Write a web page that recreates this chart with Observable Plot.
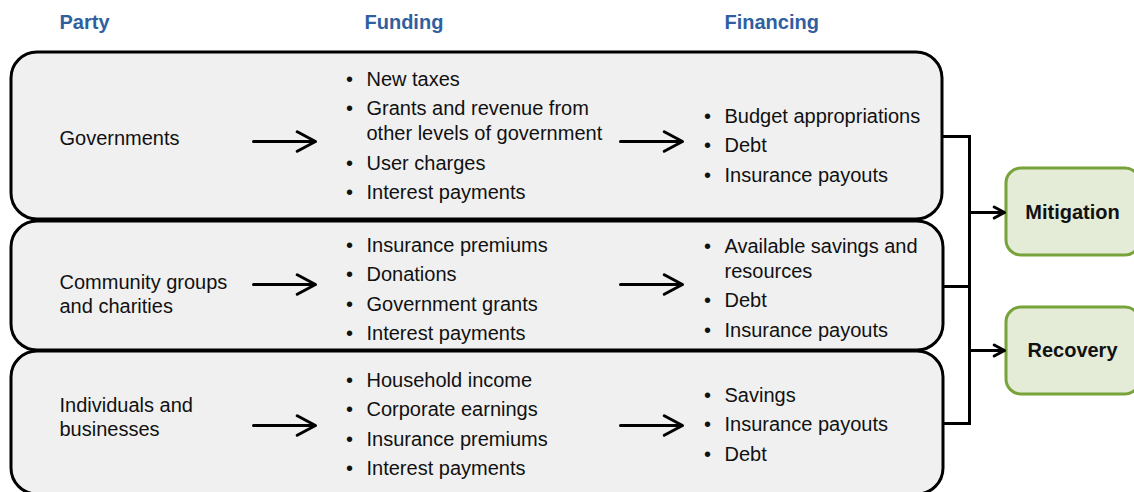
<!DOCTYPE html>
<html>
<head>
<meta charset="utf-8">
<script src="https://cdn.jsdelivr.net/npm/d3@7"></script>
<script src="https://cdn.jsdelivr.net/npm/@observablehq/plot@0.6"></script>
<style>
  html, body { margin: 0; padding: 0; background: #fff; }
  #chart { width: 1134px; height: 492px; overflow: hidden; }
</style>
</head>
<body>
<div id="chart"></div>
<script>
// ---- data ----
const headers = ["Party", "Funding", "Financing"];
const parties = ["Governments", "Community groups\nand charities", "Individuals and\nbusinesses"];
const fundingGov = ["New taxes", "Grants and revenue from\nother levels of government", "User charges", "Interest payments"];
const fundingCommunity = ["Insurance premiums", "Donations", "Government grants", "Interest payments"];
const fundingIndividuals = ["Household income", "Corporate earnings", "Insurance premiums", "Interest payments"];
const financingGov = ["Budget appropriations", "Debt", "Insurance payouts"];
const financingCommunity = ["Available savings and\nresources", "Debt", "Insurance payouts"];
const financingIndividuals = ["Savings", "Insurance payouts", "Debt"];
const outcomes = ["Mitigation", "Recovery"];

// ---- layout ----
const W = 1134, H = 492;
const font = "'Liberation Sans', Arial, Helvetica, sans-serif";
const headerX = [59, 364, 724], headerY = 22;
const rowTop = [52, 221, 351], rowBottom = [219, 350, 494], rowRight = [942, 943, 943];
const boxLeft = 11;
const partyX = 59, partyY = [137, 293, 416];
const arrowY = [141, 284, 425];
const arrow1 = [253, 315], arrow2 = [620, 682];
const fundBulletX = 349, fundTextX = 366, fundStart = [79, 245, 380];
const finBulletX = 707, finTextX = 724, finStart = [116, 246, 395];
const itemGap = 29.3, wrapGap = 25;
const busX = 969;
const outTop = [168, 307], outBottom = [255, 394], outLeft = 1006, outRight = 1140;
const outY = [212, 350];

const fundingRows = [fundingGov, fundingCommunity, fundingIndividuals];
const financingRows = [financingGov, financingCommunity, financingIndividuals];

function listLines(rows, starts, bx, tx) {
  const bullets = [], lines = [];
  rows.forEach((items, r) => {
    let y = starts[r];
    items.forEach(item => {
      const parts = item.split("\n");
      bullets.push({x: bx, y});
      parts.forEach((p, k) => lines.push({x: tx, y: y + k * wrapGap, text: p}));
      y += (parts.length - 1) * wrapGap + itemGap;
    });
  });
  return {bullets, lines};
}
const fund = listLines(fundingRows, fundStart, fundBulletX, fundTextX);
const fin = listLines(financingRows, finStart, finBulletX, finTextX);

const boxes = parties.map((p, i) => ({x1: boxLeft, x2: rowRight[i], y1: rowTop[i], y2: rowBottom[i]}));
const outBoxes = outcomes.map((o, i) => ({x1: outLeft, x2: outRight, y1: outTop[i], y2: outBottom[i], name: o, y: outY[i]}));

const arrows = [];
arrowY.forEach(y => {
  arrows.push({x1: arrow1[0], x2: arrow1[1], y1: y, y2: y});
  arrows.push({x1: arrow2[0], x2: arrow2[1], y1: y, y2: y});
});
outY.forEach(y => arrows.push({x1: busX, x2: outLeft - 2, y1: y, y2: y}));

const connY = [136, 286, 423];
const links = connY.map((y, i) => ({x1: rowRight[i], x2: busX, y1: y, y2: y}));
links.push({x1: busX, x2: busX, y1: connY[0] - 1.5, y2: connY[2] + 1.5});

const chart = Plot.plot({
  width: W, height: H,
  marginTop: 0, marginRight: 0, marginBottom: 0, marginLeft: 0,
  x: {domain: [0, W], range: [0, W], axis: null},
  y: {domain: [0, H], range: [0, H], axis: null},
  style: {fontFamily: font, background: "#fff", overflow: "hidden"},
  marks: [
    Plot.link(links, {x1: "x1", x2: "x2", y1: "y1", y2: "y2", stroke: "#000", strokeWidth: 3}),
    Plot.rect([boxes[2]], {x1: "x1", x2: "x2", y1: "y1", y2: "y2", rx: 26, fill: "#f0f0f0", stroke: "#000", strokeWidth: 3}),
    Plot.rect([boxes[1]], {x1: "x1", x2: "x2", y1: "y1", y2: "y2", rx: 26, fill: "#f0f0f0", stroke: "#000", strokeWidth: 3}),
    Plot.rect([boxes[0]], {x1: "x1", x2: "x2", y1: "y1", y2: "y2", rx: 26, fill: "#f0f0f0", stroke: "#000", strokeWidth: 3}),
    Plot.rect(outBoxes, {x1: "x1", x2: "x2", y1: "y1", y2: "y2", rx: 15, fill: "#e4ebd6", stroke: "#77a33a", strokeWidth: 3}),
    Plot.arrow(arrows, {x1: "x1", x2: "x2", y1: "y1", y2: "y2", stroke: "#000", strokeWidth: 3, headLength: 14, headAngle: 56}),
    Plot.text(headers, {x: (d, i) => headerX[i], y: headerY, text: d => d, textAnchor: "start", fontSize: 20, fontWeight: "bold", fill: "#2f5f9f"}),
    Plot.text(parties, {x: partyX, y: (d, i) => partyY[i], text: d => d, textAnchor: "start", fontSize: 20, lineHeight: 1.2, fill: "#111"}),
    Plot.text(fund.bullets, {x: "x", y: "y", text: () => "•", fontSize: 20, fill: "#111"}),
    Plot.text(fund.lines, {x: "x", y: "y", text: "text", textAnchor: "start", fontSize: 20, fill: "#111"}),
    Plot.text(fin.bullets, {x: "x", y: "y", text: () => "•", fontSize: 20, fill: "#111"}),
    Plot.text(fin.lines, {x: "x", y: "y", text: "text", textAnchor: "start", fontSize: 20, fill: "#111"}),
    Plot.text(outBoxes, {x: 1072, y: "y", text: "name", fontSize: 20, fontWeight: "bold", fill: "#111"})
  ]
});
document.getElementById("chart").appendChild(chart);
</script>
</body>
</html>
